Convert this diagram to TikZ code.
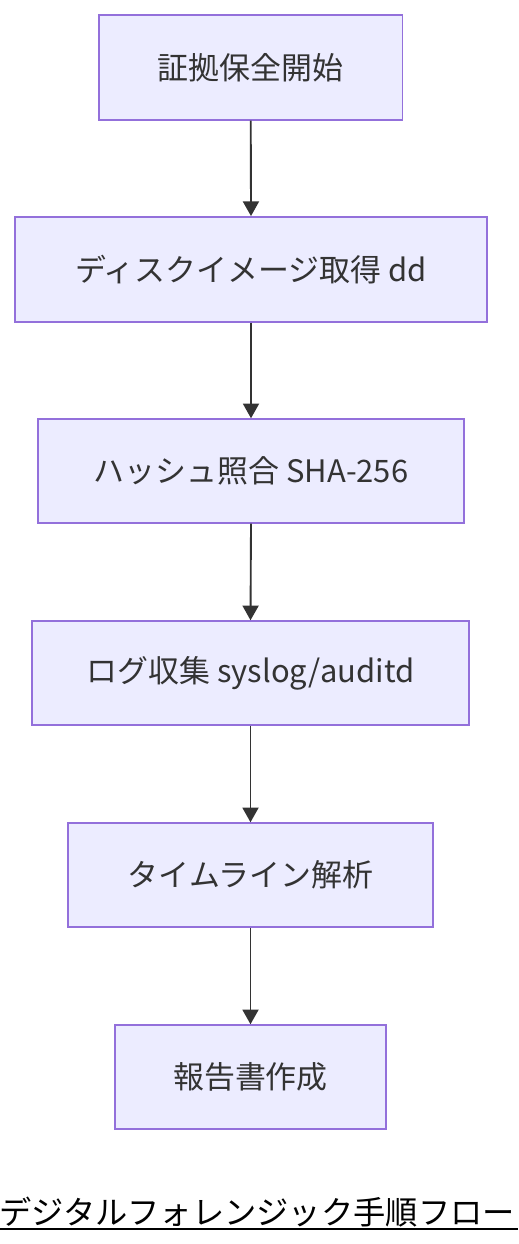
\documentclass[tikz,border=0pt]{standalone}
\usepackage{fontspec}
\setmainfont{Noto Sans CJK JP}
\usetikzlibrary{arrows.meta}
\definecolor{boxfill}{HTML}{ECECFF}
\definecolor{boxline}{HTML}{9370DB}
\definecolor{txt}{HTML}{333333}
\tikzset{
  x=0.75pt, y=-0.75pt,
  flowbox/.style={draw=boxline, fill=boxfill, line width=1.1pt, text=txt,
    font=\fontsize{23.2pt}{28pt}\selectfont, inner sep=0pt, anchor=center},
  flowarrow/.style={draw=txt, line width=1.4pt, -{Triangle[length=11pt,width=12pt]}}
}
\begin{document}
\begin{tikzpicture}
\useasboundingbox (0,0) rectangle (518,1244);
\node[flowbox, minimum width={303.5*0.75pt}, minimum height={105*0.75pt}] (n1) at (250.75,67.5) {証拠保全開始};
\node[flowbox, minimum width={472*0.75pt}, minimum height={105*0.75pt}] (n2) at (251,269.3) {ディスクイメージ取得 dd};
\node[flowbox, minimum width={426*0.75pt}, minimum height={104*0.75pt}] (n3) at (251,471) {ハッシュ照合 SHA-256};
\node[flowbox, minimum width={437*0.75pt}, minimum height={104*0.75pt}] (n4) at (250.5,673) {ログ収集 syslog/auditd};
\node[flowbox, minimum width={365*0.75pt}, minimum height={104*0.75pt}] (n5) at (250.5,875) {タイムライン解析};
\node[flowbox, minimum width={271*0.75pt}, minimum height={104*0.75pt}] (n6) at (250.5,1077) {報告書作成};
\draw[flowarrow] (n1.south) -- (n2.north);
\draw[flowarrow] (n2.south) -- (n3.north);
\draw[flowarrow] (n3.south) -- (n4.north);
\draw[flowarrow] (n4.south) -- (n5.north);
\draw[flowarrow] (n5.south) -- (n6.north);
\node[font=\fontsize{24.2pt}{29pt}\selectfont, text=black, anchor=center] (title) at (257,1212) {デジタルフォレンジック手順フロー};
\coordinate (ul1) at (0,1229);
\coordinate (ul2) at (518,1229);
\draw[line width=1.5pt, black] (ul1) -- (ul2);
\end{tikzpicture}
\end{document}
